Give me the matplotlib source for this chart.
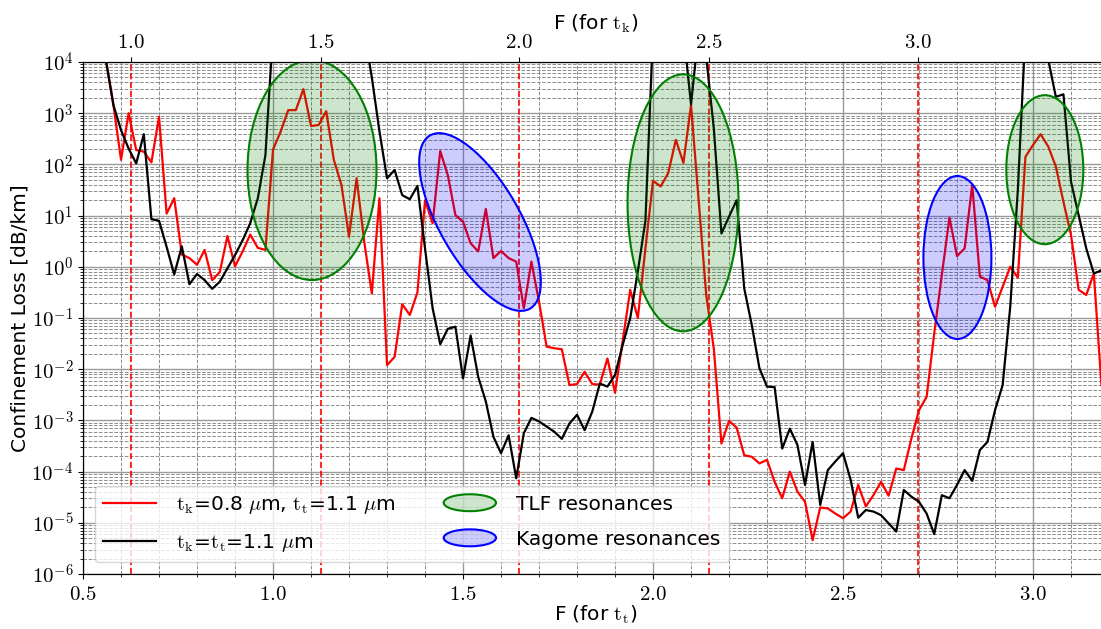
import matplotlib
matplotlib.use("Agg")
import matplotlib.pyplot as plt
import matplotlib.transforms as mtransforms
import numpy as np
from matplotlib.legend_handler import HandlerPatch
from matplotlib.lines import Line2D
from matplotlib.patches import Ellipse
from matplotlib.ticker import FuncFormatter, LogLocator, MultipleLocator, NullFormatter

plt.rcParams["font.family"] = ["DejaVu Sans"]
plt.rcParams["mathtext.fontset"] = "cm"

# Normalised frequency grid (for t_t), sampled every 0.02
F_T = np.round(np.arange(0.56, 3.1801, 0.02), 2)

# log10 of confinement loss [dB/km]
LOG_LOSS_RED = [
    4.05, 3.16, 2.09, 3.00, 2.28, 2.25, 2.04, 2.93, 1.04, 1.34,
    0.24, 0.17, 0.04, 0.33, -0.26, -0.10, 0.60, 0.01, 0.30, 0.63,
    0.37, 0.33, 2.29, 2.64, 3.06, 3.06, 3.47, 2.75, 2.77, 3.04,
    2.09, 1.60, 0.59, 1.73, 0.49, -0.52, 1.34, -1.92, -1.76, -0.73,
    -0.94, -0.50, 1.30, 0.85, 2.26, 1.79, 1.01, 0.88, 0.46, 0.30,
    1.13, 0.17, 0.31, 0.17, 0.10, -0.81, 0.10, -0.68, -1.56, -1.59,
    -1.61, -2.31, -2.29, -2.05, -2.29, -2.30, -1.79, -2.46, -1.45, -0.45,
    -1.00, 0.36, 1.68, 1.57, 1.83, 2.48, 2.03, 3.16, 1.30, -0.55,
    -1.60, -3.45, -3.01, -3.14, -3.68, -3.71, -3.84, -3.77, -4.20, -4.52,
    -4.00, -4.39, -4.59, -5.34, -4.70, -4.72, -4.82, -4.91, -4.78, -4.26,
    -4.68, -4.46, -4.20, -4.47, -3.94, -3.97, -3.35, -2.80, -2.54, -1.30,
    -0.16, 0.96, 0.21, 0.36, 1.60, -0.19, -0.26, -0.78, -0.39, 0.00,
    -0.21, 2.15, 2.38, 2.59, 2.35, 1.96, 1.27, 0.62, -0.45, -0.55,
    -0.13, -2.31,
]
LOG_LOSS_BLACK = [
    4.05, 3.16, 2.67, 2.31, 2.02, 2.59, 0.93, 0.90, 0.39, -0.15,
    0.40, -0.34, -0.14, -0.26, -0.43, -0.29, -0.03, 0.23, 0.52, 0.85,
    1.34, 2.18, 4.60, 4.60, 4.60, 4.60, 4.60, 4.60, 4.60, 4.60,
    4.60, 4.60, 4.60, 4.60, 4.60, 3.70, 2.65, 1.73, 1.89, 1.40,
    1.32, 1.58, 0.36, -0.81, -1.51, -1.21, -1.17, -2.18, -1.34, -2.15,
    -2.63, -3.32, -3.64, -3.29, -4.13, -3.25, -2.95, -3.02, -3.12, -3.22,
    -3.36, -3.06, -2.89, -3.19, -2.83, -2.28, -2.34, -2.11, -1.53, -1.00,
    -0.09, 0.90, 4.60, 4.60, 4.60, 4.60, 4.60, 3.17, 4.60, 4.10,
    2.70, 0.65, 0.98, 1.30, -0.42, -1.14, -1.98, -2.34, -2.35, -3.55,
    -3.16, -3.48, -4.26, -3.42, -4.65, -3.97, -3.80, -3.64, -4.16, -4.90,
    -4.75, -4.78, -4.85, -5.01, -5.17, -4.36, -4.49, -4.59, -4.82, -5.22,
    -4.46, -4.52, -4.26, -3.97, -4.18, -3.58, -3.42, -2.80, -2.31, -0.78,
    1.50, 4.60, 4.60, 4.60, 4.05, 3.32, 3.37, 1.66, 1.01, 0.36,
    -0.13, -0.07,
]

# Top axis: F for t_k, placed at the matching F for t_t
TOP_TICK_POS = [0.6255, 1.1255, 1.648, 2.148, 2.697]
TOP_TICK_LABELS = ["1.0", "1.5", "2.0", "2.5", "3.0"]

# Resonance markers: (F_t centre, loss centre, width px, height px, angle deg)
TLF_ELLIPSES = [
    (1.1026, 10 ** 1.89, 129, 220, 0),
    (2.079, 10 ** 1.25, 111, 257, 0),
    (3.031, 10 ** 1.897, 77, 149, 0),
]
KAGOME_ELLIPSES = [
    (1.5447, 10 ** 0.875, 200, 80, -60),
    (2.801, 10 ** 0.182, 68, 163, 0),
]

LABEL_RED = r"$\mathrm{t_k}$=0.8 $\mu$m, $\mathrm{t_t}$=1.1 $\mu$m"
LABEL_BLACK = r"$\mathrm{t_k}$=$\mathrm{t_t}$=1.1 $\mu$m"


def legend_ellipse(legend, orig_handle, xdescent, ydescent, width, height, fontsize):
    return Ellipse(xy=(0.5 * width - 0.5 * xdescent, 0.5 * height - 0.5 * ydescent),
                   width=width, height=height * 1.2)


fig = plt.figure(figsize=(11.01, 6.29), dpi=100)
ax = fig.add_axes([0.0754, 0.0874, 0.9319, 0.814])

ax.plot(F_T, 10 ** np.array(LOG_LOSS_RED), color="red", lw=1.6, label=LABEL_RED, zorder=3)
ax.plot(F_T, 10 ** np.array(LOG_LOSS_BLACK), color="black", lw=1.6, label=LABEL_BLACK, zorder=3)

for xpos in TOP_TICK_POS:
    ax.axvline(xpos, color="red", ls="--", lw=1.2, zorder=2)

ax.set_yscale("log")
ax.set_xlim(0.5, 3.2)
ax.set_ylim(1e-6, 1e4)

ax.xaxis.set_major_locator(MultipleLocator(0.5))
ax.xaxis.set_minor_locator(MultipleLocator(0.1))
ax.xaxis.set_major_formatter(FuncFormatter(lambda v, _: f"${v:.1f}$"))
ax.yaxis.set_major_locator(LogLocator(base=10, numticks=20))
ax.yaxis.set_minor_locator(LogLocator(base=10, subs=np.arange(2, 10), numticks=20))
ax.yaxis.set_major_formatter(FuncFormatter(lambda v, _: f"$10^{{{int(round(np.log10(v)))}}}$"))
ax.yaxis.set_minor_formatter(NullFormatter())
ax.tick_params(labelsize=15)

ax.grid(which="major", color="#9a9a9a", lw=1.0, ls="-", zorder=0)
ax.grid(which="minor", color="#8c8c8c", lw=0.7, ls="--", zorder=0)
ax.set_axisbelow(True)

ax.set_xlabel(r"F (for $\mathrm{t_t}$)", fontsize=14.5, labelpad=0)
ax.set_ylabel("Confinement Loss [dB/km]", fontsize=14.5, labelpad=1)

# Resonance ellipses, sized in pixels around a data-space centre
for xc, yc, w, h, ang in TLF_ELLIPSES:
    trans = fig.dpi_scale_trans + mtransforms.ScaledTranslation(xc, yc, ax.transData)
    ax.add_patch(Ellipse((0, 0), w / 100, h / 100, angle=ang, transform=trans,
                         facecolor=(0, 0.5, 0, 0.2), edgecolor="green", lw=1.5, zorder=4))
for xc, yc, w, h, ang in KAGOME_ELLIPSES:
    trans = fig.dpi_scale_trans + mtransforms.ScaledTranslation(xc, yc, ax.transData)
    ax.add_patch(Ellipse((0, 0), w / 100, h / 100, angle=ang, transform=trans,
                         facecolor=(0, 0, 1, 0.2), edgecolor="blue", lw=1.5, zorder=4))

handles = [
    Line2D([], [], color="red", lw=1.6),
    Line2D([], [], color="black", lw=1.6),
    Ellipse((0, 0), 1, 1, facecolor=(0, 0.5, 0, 0.2), edgecolor="green", lw=1.5),
    Ellipse((0, 0), 1, 1, facecolor=(0, 0, 1, 0.2), edgecolor="blue", lw=1.5),
]
labels = [LABEL_RED, LABEL_BLACK, "TLF resonances", "Kagome resonances"]
leg = ax.legend(handles, labels, loc="lower left", ncol=2, fontsize=14.5,
                handlelength=2.6, handletextpad=1.0, columnspacing=2.4,
                labelspacing=0.8, framealpha=0.8, borderaxespad=0.6,
                handler_map={Ellipse: HandlerPatch(patch_func=legend_ellipse)})
leg.set_zorder(5)

ax2 = ax.twiny()
ax2.set_xlim(ax.get_xlim())
ax2.set_xticks(TOP_TICK_POS)
ax2.set_xticklabels([f"${t}$" for t in TOP_TICK_LABELS])
ax2.tick_params(labelsize=15)
ax2.set_xlabel(r"F (for $\mathrm{t_k}$)", fontsize=14.5, labelpad=2)

fig.savefig("out.png", dpi=100)
